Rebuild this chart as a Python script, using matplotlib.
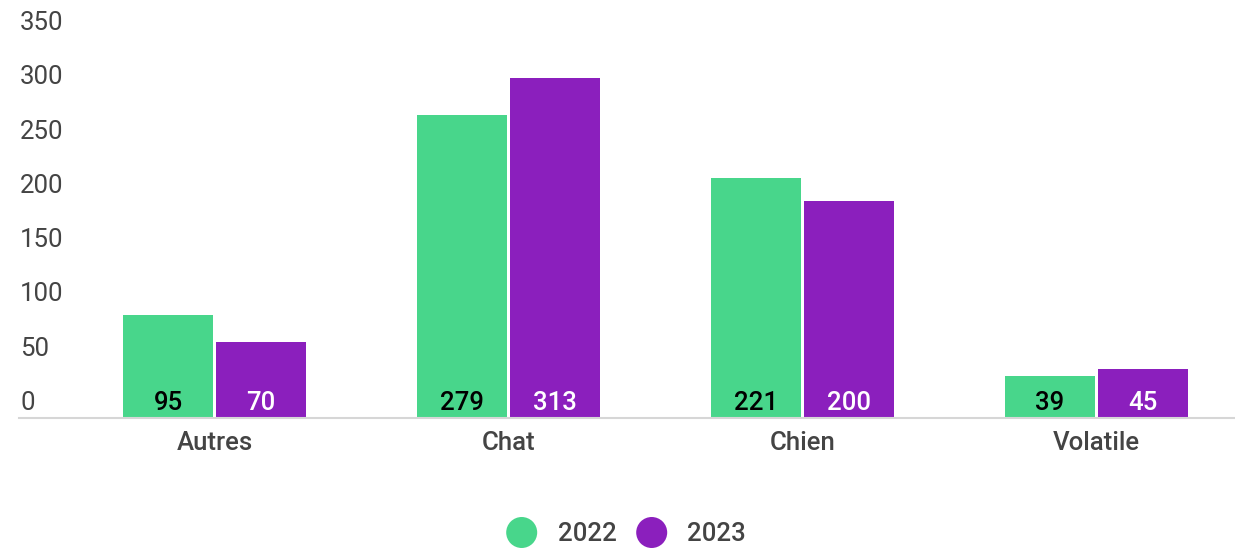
import matplotlib.pyplot as plt
from matplotlib.patches import Circle
import numpy as np

categories = ['Autres', 'Chat', 'Chien', 'Volatile']
years = ['2022', '2023']
vals_2022 = [95, 279, 221, 39]
vals_2023 = [70, 313, 200, 45]
yticks = [0, 50, 100, 150, 200, 250, 300, 350]

green = '#48D68B'
purple = '#8B1FBD'
grey = '#444444'
fs = 18.5

plt.rcParams['font.family'] = ['Roboto', 'DejaVu Sans']

W, H = 1235, 552
fig = plt.figure(figsize=(W / 100, H / 100), dpi=100)
# axes placed in pixels: left 19, baseline 418, top (350) 38
ax = fig.add_axes([19 / W, (H - 418) / H, (W - 19) / W, 380 / H])

x = np.arange(len(categories))
bw = 90 / 294
gap = 3 / 294
b1 = ax.bar(x - (bw + gap) / 2, vals_2022, width=bw, color=green)
b2 = ax.bar(x + (bw + gap) / 2, vals_2023, width=bw, color=purple)

ax.set_xlim(-195.5 / 294, (W - 19 - 195.5) / 294)
ax.set_ylim(0, 350)

for s in ['top', 'right', 'left']:
    ax.spines[s].set_visible(False)
ax.spines['bottom'].set_color('#d6d6d6')
ax.spines['bottom'].set_linewidth(1.5)
ax.set_yticks([])
ax.set_xticks([])

# category labels under the axis
for xi, lab in zip(x, categories):
    ax.annotate(lab, xy=(xi, 0), xycoords=ax.get_xaxis_transform(),
                xytext=(0, -23.3), textcoords='offset points',
                ha='center', va='baseline', fontsize=fs, color=grey,
                fontweight='medium')

# y labels sit above their value
for t in yticks:
    ax.annotate(str(t), xy=(0.001, t), xycoords=ax.get_yaxis_transform(),
                xytext=(0, 5.8), textcoords='offset points',
                ha='left', va='baseline', fontsize=fs, color=grey)

# value labels at the bottom of each bar
for bars, col in [(b1, 'black'), (b2, 'white')]:
    for r in bars:
        ax.annotate(str(int(r.get_height())), xy=(r.get_x() + r.get_width() / 2, 0),
                    xytext=(0, 5.8), textcoords='offset points',
                    ha='center', va='baseline', fontsize=fs, color=col,
                    fontweight='medium')

# legend
for cx, tx, col, lab in [(521.7, 558, green, years[0]), (651.7, 687, purple, years[1])]:
    fig.patches.append(Circle((cx, H - 532.5), 15.5, transform=None,
                              facecolor=col, edgecolor='none'))
    fig.text(tx / W, (H - 541) / H, lab, ha='left', va='baseline',
             fontsize=fs, color=grey, fontweight='medium')

fig.savefig('out.png', dpi=100)
